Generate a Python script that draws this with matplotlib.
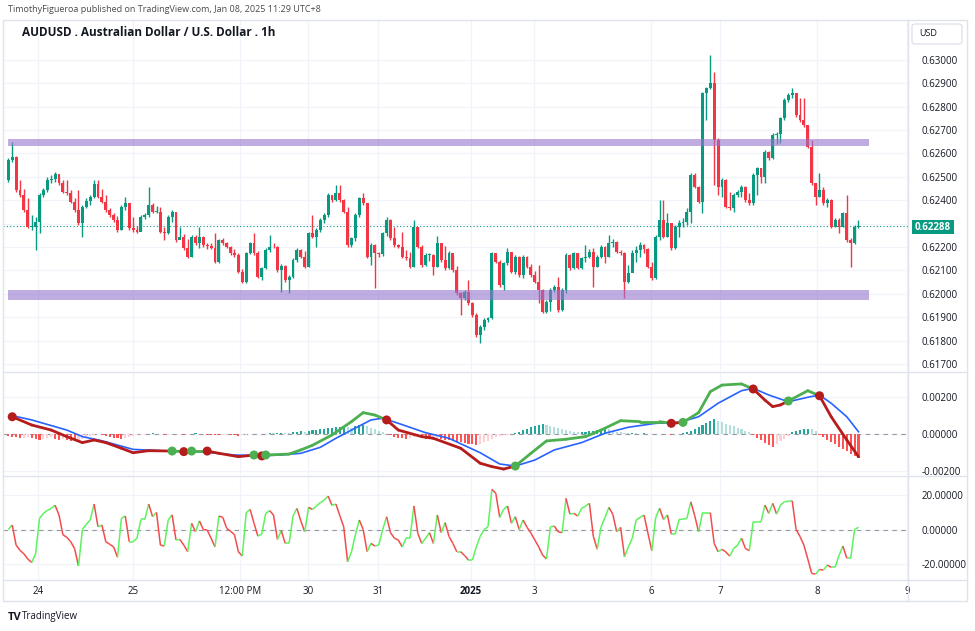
import matplotlib
matplotlib.use("Agg")
import matplotlib.pyplot as plt
import matplotlib.transforms as mtransforms
from matplotlib.collections import LineCollection
from matplotlib.patches import FancyBboxPatch, Rectangle

plt.rcParams["font.family"] = ["Open Sans", "DejaVu Sans"]

W, H = 975, 631

# ---- price data (1h candles, AUDUSD) ----
first_open = 0.62486
closes = [
    0.62572, 0.62586, 0.62444, 0.62422, 0.62358, 0.62287, 0.62287, 0.62308, 0.62422, 0.62444,
    0.62486, 0.62489, 0.62512, 0.62472, 0.62436, 0.62429, 0.62394, 0.62358, 0.62301, 0.62372,
    0.62398, 0.62415, 0.62469, 0.62415, 0.62394, 0.62358, 0.62337, 0.62315, 0.62273, 0.62372,
    0.62387, 0.62280, 0.62273, 0.62266, 0.62330, 0.62337, 0.62379, 0.62351, 0.62351, 0.62266,
    0.62258, 0.62330, 0.62351, 0.62230, 0.62244, 0.62194, 0.62159, 0.62244, 0.62216, 0.62244,
    0.62209, 0.62204, 0.62194, 0.62137, 0.62230, 0.62216, 0.62201, 0.62173, 0.62166, 0.62095,
    0.62052, 0.62173, 0.62216, 0.62173, 0.62073, 0.62109, 0.62187, 0.62201, 0.62199, 0.62102,
    0.62119, 0.62059, 0.62073, 0.62144, 0.62187, 0.62159, 0.62116, 0.62258, 0.62244, 0.62273,
    0.62315, 0.62337, 0.62422, 0.62401, 0.62429, 0.62401, 0.62351, 0.62209, 0.62237, 0.62337,
    0.62408, 0.62387, 0.62159, 0.62209, 0.62173, 0.62170, 0.62258, 0.62315, 0.62237, 0.62209,
    0.62201, 0.62159, 0.62152, 0.62116, 0.62287, 0.62201, 0.62123, 0.62166, 0.62166, 0.62116,
    0.62216, 0.62144, 0.62109, 0.62173, 0.62102, 0.62002, 0.61981, 0.62009, 0.61959, 0.61909,
    0.61824, 0.61860, 0.61888, 0.61895, 0.62173, 0.62137, 0.62038, 0.62130, 0.62180, 0.62095,
    0.62159, 0.62080, 0.62159, 0.62116, 0.62080, 0.62052, 0.62016, 0.61924, 0.61966, 0.62016,
    0.62030, 0.61931, 0.62016, 0.62166, 0.62109, 0.62173, 0.62109, 0.62152, 0.62159, 0.62180,
    0.62116, 0.62159, 0.62201, 0.62159, 0.62216, 0.62223, 0.62180, 0.62173, 0.62052, 0.62087,
    0.62173, 0.62187, 0.62209, 0.62190, 0.62116, 0.62066, 0.62244, 0.62315, 0.62244, 0.62301,
    0.62194, 0.62287, 0.62301, 0.62308, 0.62351, 0.62508, 0.62458, 0.62394, 0.62857, 0.62878,
    0.62899, 0.62657, 0.62458, 0.62486, 0.62372, 0.62365, 0.62422, 0.62436, 0.62458, 0.62401,
    0.62387, 0.62508, 0.62536, 0.62501, 0.62607, 0.62579, 0.62679, 0.62683, 0.62750, 0.62828,
    0.62850, 0.62857, 0.62764, 0.62743, 0.62721, 0.62629, 0.62472, 0.62415, 0.62444, 0.62387,
    0.62401, 0.62287, 0.62315, 0.62287, 0.62344, 0.62230, 0.62216, 0.62287, 0.62288,
]
highs = [
    0.62579, 0.62650, 0.62589, 0.62486, 0.62446, 0.62408, 0.62337, 0.62330, 0.62429, 0.62451,
    0.62501, 0.62508, 0.62522, 0.62501, 0.62486, 0.62486, 0.62444, 0.62408, 0.62444, 0.62379,
    0.62408, 0.62422, 0.62486, 0.62486, 0.62446, 0.62422, 0.62365, 0.62347, 0.62332, 0.62379,
    0.62415, 0.62389, 0.62327, 0.62290, 0.62337, 0.62344, 0.62458, 0.62387, 0.62375, 0.62370,
    0.62287, 0.62337, 0.62358, 0.62347, 0.62287, 0.62256, 0.62233, 0.62251, 0.62251, 0.62287,
    0.62247, 0.62219, 0.62219, 0.62258, 0.62233, 0.62237, 0.62223, 0.62204, 0.62190, 0.62176,
    0.62105, 0.62180, 0.62223, 0.62258, 0.62183, 0.62116, 0.62194, 0.62251, 0.62219, 0.62204,
    0.62127, 0.62123, 0.62080, 0.62152, 0.62194, 0.62190, 0.62183, 0.62266, 0.62337, 0.62280,
    0.62323, 0.62344, 0.62429, 0.62422, 0.62465, 0.62465, 0.62404, 0.62372, 0.62244, 0.62344,
    0.62415, 0.62429, 0.62379, 0.62216, 0.62213, 0.62180, 0.62266, 0.62330, 0.62318, 0.62287,
    0.62213, 0.62266, 0.62187, 0.62180, 0.62315, 0.62284, 0.62209, 0.62173, 0.62173, 0.62169,
    0.62247, 0.62219, 0.62204, 0.62184, 0.62162, 0.62119, 0.62009, 0.62016, 0.62059, 0.61966,
    0.61919, 0.61867, 0.61895, 0.61902, 0.62180, 0.62166, 0.62144, 0.62137, 0.62194, 0.62173,
    0.62166, 0.62162, 0.62166, 0.62162, 0.62127, 0.62099, 0.62123, 0.62019, 0.61974, 0.62023,
    0.62038, 0.62073, 0.62023, 0.62173, 0.62170, 0.62180, 0.62176, 0.62159, 0.62209, 0.62190,
    0.62194, 0.62166, 0.62209, 0.62204, 0.62251, 0.62233, 0.62227, 0.62187, 0.62180, 0.62123,
    0.62187, 0.62204, 0.62223, 0.62213, 0.62194, 0.62137, 0.62251, 0.62401, 0.62401, 0.62344,
    0.62304, 0.62294, 0.62315, 0.62323, 0.62365, 0.62515, 0.62518, 0.62461, 0.62864, 0.62885,
    0.63020, 0.62949, 0.62664, 0.62493, 0.62489, 0.62436, 0.62429, 0.62444, 0.62465, 0.62461,
    0.62429, 0.62515, 0.62543, 0.62539, 0.62615, 0.62610, 0.62686, 0.62693, 0.62757, 0.62835,
    0.62857, 0.62878, 0.62850, 0.62835, 0.62835, 0.62717, 0.62657, 0.62475, 0.62515, 0.62458,
    0.62408, 0.62404, 0.62323, 0.62323, 0.62351, 0.62422, 0.62237, 0.62294, 0.62315,
]
lows = [
    0.62479, 0.62565, 0.62436, 0.62415, 0.62351, 0.62280, 0.62273, 0.62187, 0.62258, 0.62415,
    0.62436, 0.62472, 0.62479, 0.62465, 0.62429, 0.62422, 0.62387, 0.62351, 0.62294, 0.62244,
    0.62365, 0.62379, 0.62408, 0.62408, 0.62387, 0.62351, 0.62330, 0.62308, 0.62266, 0.62273,
    0.62358, 0.62273, 0.62266, 0.62261, 0.62273, 0.62318, 0.62327, 0.62344, 0.62344, 0.62258,
    0.62230, 0.62256, 0.62308, 0.62223, 0.62237, 0.62187, 0.62152, 0.62156, 0.62209, 0.62194,
    0.62201, 0.62193, 0.62190, 0.62133, 0.62133, 0.62209, 0.62194, 0.62166, 0.62159, 0.62087,
    0.62045, 0.62048, 0.62170, 0.62166, 0.62066, 0.62059, 0.62105, 0.62180, 0.62194, 0.62095,
    0.62009, 0.62052, 0.62002, 0.62066, 0.62137, 0.62154, 0.62109, 0.62113, 0.62237, 0.62201,
    0.62266, 0.62301, 0.62327, 0.62394, 0.62398, 0.62394, 0.62344, 0.62201, 0.62201, 0.62227,
    0.62330, 0.62379, 0.62152, 0.62123, 0.62023, 0.62156, 0.62162, 0.62247, 0.62230, 0.62201,
    0.62194, 0.62152, 0.62144, 0.62109, 0.62113, 0.62194, 0.62116, 0.62119, 0.62142, 0.62080,
    0.62113, 0.62137, 0.62102, 0.62105, 0.62095, 0.61995, 0.61909, 0.61974, 0.61952, 0.61902,
    0.61817, 0.61788, 0.61845, 0.61881, 0.61891, 0.62130, 0.62030, 0.62016, 0.62123, 0.62087,
    0.62085, 0.62073, 0.62066, 0.62109, 0.62073, 0.62045, 0.61959, 0.61917, 0.61919, 0.61928,
    0.62009, 0.61924, 0.61928, 0.62005, 0.62102, 0.62105, 0.62105, 0.62105, 0.62137, 0.62152,
    0.62030, 0.62113, 0.62152, 0.62130, 0.62156, 0.62201, 0.62176, 0.62166, 0.61981, 0.62045,
    0.62102, 0.62137, 0.62159, 0.62173, 0.62109, 0.62059, 0.62062, 0.62230, 0.62237, 0.62241,
    0.62187, 0.62190, 0.62244, 0.62287, 0.62294, 0.62301, 0.62451, 0.62387, 0.62344, 0.62743,
    0.62874, 0.62465, 0.62422, 0.62415, 0.62365, 0.62358, 0.62351, 0.62415, 0.62415, 0.62394,
    0.62379, 0.62379, 0.62422, 0.62472, 0.62472, 0.62572, 0.62575, 0.62640, 0.62643, 0.62743,
    0.62821, 0.62835, 0.62757, 0.62736, 0.62714, 0.62622, 0.62465, 0.62379, 0.62412, 0.62379,
    0.62372, 0.62280, 0.62284, 0.62258, 0.62284, 0.62223, 0.62116, 0.62213, 0.62280,
]
last_price = 0.62288
band_upper = (0.62632, 0.62662)
band_lower = (0.61975, 0.62015)

# ---- MACD pane (line samples read at bar indices) ----
macd_idx = [1, 6, 11, 15, 19, 22, 25, 29, 32, 36, 42, 45, 47, 51, 54, 59, 63, 65, 66, 72,
            75, 78, 83, 88, 91, 94, 97, 100, 106, 109, 116, 121, 124, 127, 130, 134, 138, 143, 148, 152,
            157, 162, 167, 170, 173, 177, 180, 183, 188, 191, 194, 196, 198, 200, 205, 208, 211, 215, 218]
macd_val = [0.00092, 0.00048, 0.00021, -0.00014, -0.00046, -0.00032, -0.00046, -0.00076, -0.00100, -0.00089,
            -0.00091, -0.00094, -0.00091, -0.00091, -0.00103, -0.00121, -0.00112, -0.00117, -0.00112, -0.00107,
            -0.00085, -0.00060, -0.00005, 0.00066, 0.00114, 0.00101, 0.00075, 0.00021, -0.00014, -0.00023,
            -0.00076, -0.00156, -0.00174, -0.00187, -0.00171, -0.00103, -0.00037, -0.00028, -0.00014, 0.00021,
            0.00071, 0.00066, 0.00066, 0.00057, 0.00062, 0.00114, 0.00226, 0.00261, 0.00267, 0.00240,
            0.00181, 0.00146, 0.00155, 0.00176, 0.00231, 0.00204, 0.00092, -0.00032, -0.00121]
signal_idx = [1, 6, 15, 19, 24, 32, 41, 49, 58, 65, 70, 75, 80, 84, 88, 93, 96, 100, 107, 113,
              121, 126, 130, 135, 140, 147, 153, 159, 166, 172, 177, 182, 188, 191, 195, 200, 205, 208, 211, 215,
              218]
signal_val = [0.00098, 0.00075, 0.00021, -0.00014, -0.00036, -0.00082, -0.00091, -0.00094, -0.00112, -0.00116,
              -0.00112, -0.00103, -0.00071, -0.00023, 0.00021, 0.00075, 0.00084, 0.00057, 0.00007, -0.00023,
              -0.00100, -0.00160, -0.00171, -0.00139, -0.00085, -0.00046, 0.00004, 0.00036, 0.00057, 0.00062,
              0.00092, 0.00164, 0.00231, 0.00244, 0.00208, 0.00172, 0.00196, 0.00208, 0.00164, 0.00092,
              0.00012]
cross_idx = [1, 42, 45, 47, 51, 63, 65, 66, 97, 130, 170, 173, 191, 200, 208]
cross_up = [False, True, False, True, False, True, False, True, False, True, False, True, False, True, False]
hist_val = [
    -0.00012, -0.00015, -0.00018, -0.00022, -0.00020, -0.00016, -0.00024, -0.00028, -0.00030, -0.00026,
    -0.00022, -0.00018, -0.00025, -0.00030, -0.00028, -0.00032, -0.00035, -0.00038, -0.00034, -0.00026,
    -0.00018, -0.00010, -0.00004, -0.00002, -0.00006, -0.00010, -0.00014, -0.00020, -0.00024, -0.00027,
    -0.00024, -0.00018, -0.00012, -0.00008, -0.00005, -0.00003, 0.00002, 0.00003, 0.00001, -0.00002,
    -0.00004, -0.00003, 0.00002, 0.00001, -0.00002, -0.00004, -0.00002, 0.00001, 0.00003, 0.00002,
    -0.00001, -0.00003, -0.00005, -0.00007, -0.00008, -0.00006, -0.00004, -0.00005, -0.00007, -0.00009,
    -0.00008, -0.00005, -0.00002, 0.00002, 0.00001, -0.00001, 0.00002, 0.00004, 0.00003, 0.00005,
    0.00007, 0.00006, 0.00004, 0.00008, 0.00010, 0.00014, 0.00012, 0.00016, 0.00020, 0.00022,
    0.00025, 0.00028, 0.00030, 0.00033, 0.00036, 0.00038, 0.00040, 0.00038, 0.00034, 0.00040,
    0.00046, 0.00050, 0.00042, 0.00034, 0.00025, 0.00016, 0.00008, -0.00002, -0.00008, -0.00014,
    -0.00020, -0.00024, -0.00028, -0.00024, -0.00018, -0.00014, -0.00020, -0.00025, -0.00028, -0.00026,
    -0.00022, -0.00026, -0.00030, -0.00034, -0.00038, -0.00042, -0.00045, -0.00048, -0.00052, -0.00055,
    -0.00058, -0.00056, -0.00045, -0.00035, -0.00025, -0.00018, -0.00012, -0.00008, -0.00005, -0.00002,
    0.00005, 0.00012, 0.00020, 0.00028, 0.00036, 0.00042, 0.00048, 0.00052, 0.00050, 0.00044,
    0.00038, 0.00032, 0.00026, 0.00020, 0.00015, 0.00011, 0.00009, 0.00011, 0.00013, 0.00015,
    0.00018, 0.00022, 0.00026, 0.00030, 0.00024, 0.00018, 0.00012, 0.00008, 0.00005, 0.00004,
    0.00006, 0.00003, 0.00002, 0.00004, 0.00002, 0.00001, 0.00002, 0.00001, 0.00001, -0.00001,
    -0.00003, -0.00002, -0.00001, 0.00004, 0.00010, 0.00018, 0.00026, 0.00036, 0.00048, 0.00060,
    0.00072, 0.00080, 0.00072, 0.00064, 0.00056, 0.00048, 0.00040, 0.00032, 0.00024, 0.00016,
    0.00008, -0.00006, -0.00020, -0.00034, -0.00048, -0.00060, -0.00068, -0.00055, -0.00040, -0.00025,
    -0.00010, 0.00008, 0.00015, 0.00020, 0.00024, 0.00028, 0.00026, 0.00015, -0.00005, -0.00018,
    -0.00030, -0.00042, -0.00055, -0.00068, -0.00080, -0.00092, -0.00105, -0.00118, -0.00128,
]

# ---- oscillator pane ----
osc_val = [
    0, 2.6, -9, -12, -14, -17, -19, -14, 6.4, 9.3,
    11, 12.2, 14, 8.4, -3, -4.5, -7, -11, -21, 0,
    3, 5.5, 14.7, 1.6, 2.6, -7, -8.5, -10, -16, 6.4,
    7.8, -7, -7, -5, 5.8, 5.8, 14.7, 7.4, 9.9, -9,
    -9.5, 5.5, 8.5, -6, -5.7, -9, -12.8, 3.6, -1.3, 5,
    0, -0.3, -5, -10, 7.8, 7, 0.7, -1, -3, -12.8,
    -15.3, 9.7, 11.6, 3.6, -3.8, -2.6, 9.3, 10.9, 8.4, -5.7,
    -0.7, -8, -8, 7.8, 12.2, 5, -1.3, 12.8, 11.6, 13.5,
    15.5, 17, 19.3, 14, 14.7, 8, 1.6, -18.6, -12.8, -3,
    5.5, 0, -12.8, -8, -9.5, -8.9, 0, 7.4, -1.8, -5,
    -6, -10, -5, -5, 13.6, -2.2, -8, -5, -1.8, -8,
    8.4, -1.8, 4, -4, -8, -12.8, -12.8, -15, -17.6, -17.6,
    -10, -4, 0, 1.6, 23.2, 20.9, 7, 11.6, 13.6, 3.6,
    7.4, 0, 5.5, 1.3, -2, -6, -10, -14.7, -17, 1.6,
    2, -1.3, -1.8, 18, 8.9, 9.3, 7.8, 12.2, 13.5, 15.1,
    -3.8, -11.4, 1.6, 7, 12.8, 8.8, -1.3, 1.3, -15.7, -10,
    -5, 5.5, 7, 8.4, -2, -12.2, 7, 12.2, 5.8, 8.4,
    -2.6, -2.6, 5.8, 6, 6.4, 16, 8, -1.3, 9.7, 9.7,
    9.7, -8, -12.8, -11.4, -13, -15.3, -10.9, -9, -5, -10.9,
    -12.2, 4.5, 4.5, 4.5, 14.1, 9.3, 15.1, 8.9, 14.1, 16,
    16.3, 16.6, 0, -4, -9, -17, -25.3, -25.7, -23, -23.4,
    -20.5, -21.8, -21.8, -15, -9.5, -16.6, -16.6, 0, 1.3,
]

time_ticks = [7.6, 32.0, 59.4, 76.9, 94.8, 118.6, 134.8, 164.8, 182.6, 207.4, 230.4]
time_labels = ["24", "25", "12:00 PM", "30", "31", "2025", "3", "6", "7", "8", "9"]

price_ticks = [0.617 + 0.001 * k for k in range(14)]
macd_ticks = [-0.002, 0.0, 0.002]
osc_ticks = [-20.0, 0.0, 20.0]

UP, DOWN = "#089981", "#f23645"
GRID, BORDER, TEXT = "#f0f3fa", "#e0e3eb", "#131722"

# pixel layout of the chart
BAR0, BAR_STEP = 8.3, 3.9
PANE_L, PANE_R, AXIS_R = 3, 908, 967


def px_to_bar(px):
    return (px - BAR0) / BAR_STEP


def add_pane(fig, left, top, right, bottom):
    return fig.add_axes([left / W, 1 - bottom / H, (right - left) / W, (bottom - top) / H])


def style_pane(ax, ylim, ticks, fmt, hidden=None):
    ax.set_xlim(px_to_bar(PANE_L), px_to_bar(PANE_R))
    ax.set_ylim(*ylim)
    ax.set_xticks([])
    for spine in ax.spines.values():
        spine.set_visible(False)
    ax.yaxis.tick_right()
    ax.set_yticks(ticks)
    # a label sitting under the last-price marker is covered in the original
    ax.set_yticklabels(["" if hidden is not None and abs(v - hidden) < 0.0002 else fmt.format(v)
                        for v in ticks])
    ax.tick_params(axis="y", length=0, pad=10, labelsize=7, labelcolor=TEXT)
    for v in ticks:
        ax.axhline(v, color=GRID, lw=0.9, zorder=0)
    for t in time_ticks:
        ax.axvline(t, color=GRID, lw=0.9, zorder=0)


fig = plt.figure(figsize=(W / 100, H / 100), dpi=100)
fig.patch.set_facecolor("white")

# ---- main price pane ----
ax = add_pane(fig, PANE_L, 20, PANE_R, 371)
style_pane(ax, (0.61670, 0.63170), price_ticks, "{:.5f}", hidden=last_price)

opens = [first_open] + closes[:-1]
bars = list(range(len(closes)))
colors = [UP if c >= o else DOWN for o, c in zip(opens, closes)]
ax.vlines(bars, lows, highs, colors=colors, lw=1.0, zorder=2)
bodies = [max(abs(c - o), 0.00003) for o, c in zip(opens, closes)]
bottoms = [min(o, c) for o, c in zip(opens, closes)]
ax.bar(bars, bodies, bottom=bottoms, width=0.72, color=colors, lw=0, zorder=2)

band_x = [px_to_bar(8), px_to_bar(869)]
for lo, hi in (band_upper, band_lower):
    ax.fill_between(band_x, lo, hi, color="#9575cd", alpha=0.6, lw=0, zorder=3)

ax.axhline(last_price, color=UP, ls=(0, (1, 2)), lw=0.8, zorder=1)

# ---- MACD pane ----
ax2 = add_pane(fig, PANE_L, 372, PANE_R, 475)
style_pane(ax2, (-0.002187, 0.003307), macd_ticks, "{:.5f}")
ax2.axhline(0, color="#9598a1", ls=(0, (4, 4)), lw=0.8, zorder=1)

hist_colors = []
for k, v in enumerate(hist_val):
    prev = hist_val[k - 1] if k > 0 else v
    if v >= 0:
        hist_colors.append("#26a69a" if v >= prev else "#b2dfdb")
    else:
        hist_colors.append("#ff5252" if v <= prev else "#ffcdd2")
ax2.bar(range(len(hist_val)), hist_val, width=0.55, color=hist_colors, lw=0, zorder=2)

ax2.plot(signal_idx, signal_val, color="#2962ff", lw=1.2, zorder=3)

segs, seg_colors = [], []
for k in range(len(macd_idx) - 1):
    up = False
    for ci, cu in zip(cross_idx, cross_up):
        if ci <= macd_idx[k]:
            up = cu
    segs.append([(macd_idx[k], macd_val[k]), (macd_idx[k + 1], macd_val[k + 1])])
    seg_colors.append("#4caf50" if up else "#b71c1c")
ax2.add_collection(LineCollection(segs, colors=seg_colors, linewidths=2.0, zorder=4,
                                  capstyle="round", joinstyle="round"))
dot_y = [macd_val[macd_idx.index(ci)] for ci in cross_idx]
dot_c = ["#4caf50" if cu else "#b71c1c" for cu in cross_up]
ax2.scatter(cross_idx, dot_y, s=42, c=dot_c, zorder=5, lw=0)

# ---- oscillator pane ----
ax3 = add_pane(fig, PANE_L, 477, PANE_R, 580)
style_pane(ax3, (-29.1, 30.3), osc_ticks, "{:.5f}")
ax3.axhline(0, color="#9598a1", ls=(0, (4, 4)), lw=0.8, zorder=1)
osc_segs, osc_cols = [], []
for k in range(len(osc_val) - 1):
    osc_segs.append([(k, osc_val[k]), (k + 1, osc_val[k + 1])])
    osc_cols.append("#5ef25e" if osc_val[k + 1] >= osc_val[k] else "#f44c4c")
ax3.add_collection(LineCollection(osc_segs, colors=osc_cols, linewidths=1.1, zorder=3))

# ---- time axis ----
axt = add_pane(fig, PANE_L, 580, AXIS_R, 601)
axt.set_xlim(px_to_bar(PANE_L), px_to_bar(AXIS_R))
axt.set_ylim(0, 1)
axt.axis("off")
trans = mtransforms.blended_transform_factory(axt.transData, axt.transAxes)
for t, lab in zip(time_ticks, time_labels):
    axt.text(t, 0.45, lab, transform=trans, ha="center", va="center", fontsize=7, color=TEXT,
             fontweight="bold" if lab == "2025" else "normal")

# ---- frame, separators, labels ----
fig.add_artist(Rectangle((PANE_L / W, 1 - 601 / H), (AXIS_R - PANE_L) / W, 581 / H,
                         transform=fig.transFigure, fill=False, ec=BORDER, lw=1))
for y in (371.5, 476, 580):
    fig.add_artist(plt.Line2D([PANE_L / W, AXIS_R / W], [1 - y / H, 1 - y / H], color=BORDER, lw=1))
fig.add_artist(plt.Line2D([PANE_R / W, PANE_R / W], [1 - 20 / H, 1 - 601 / H], color=BORDER, lw=1))

fig.add_artist(FancyBboxPatch((912 / W, 1 - 44 / H), 50 / W, 20 / H, transform=fig.transFigure,
                              boxstyle="round,pad=0,rounding_size=0.004", fc="white", ec=BORDER, lw=1))
fig.text(919 / W, 1 - 34 / H, "USD", fontsize=6.5, color=TEXT, va="center")

fig.add_artist(Rectangle((912 / W, 1 - 234 / H), 42 / W, 14 / H, transform=fig.transFigure,
                         color=UP, lw=0))
fig.text(933 / W, 1 - 227 / H, "{:.5f}".format(last_price), fontsize=7, color="white",
         fontweight="bold", ha="center", va="center")

fig.text(8 / W, 1 - 10 / H, "TimothyFigueroa published on TradingView.com, Jan 08, 2025 11:29 UTC+8",
         fontsize=6.5, color="#4a4a4a", va="center")
fig.text(22 / W, 1 - 33 / H, "AUDUSD . Australian Dollar / U.S. Dollar . 1h",
         fontsize=8.5, fontweight="bold", color=TEXT, va="center")
fig.text(8 / W, 1 - 617 / H, "TV", fontsize=8, fontweight="bold", color=TEXT, va="center")
fig.text(22 / W, 1 - 617 / H, "TradingView", fontsize=7, color=TEXT, va="center")

fig.savefig("out.png", dpi=100)
